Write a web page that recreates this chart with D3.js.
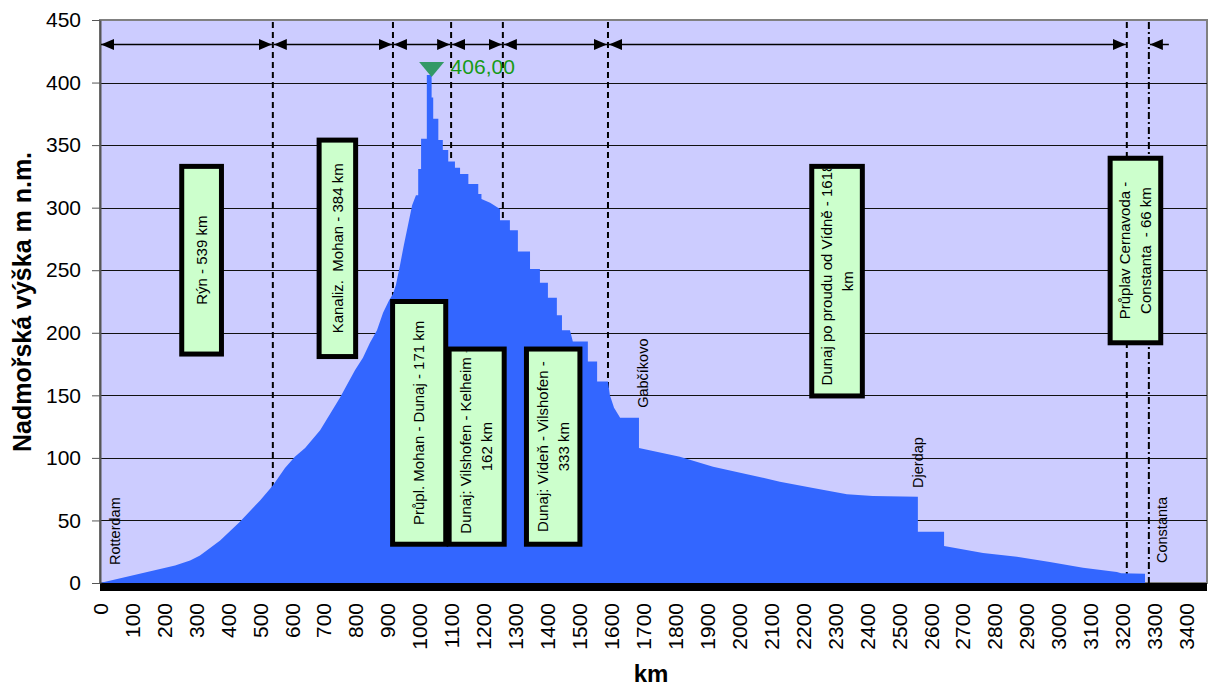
<!DOCTYPE html>
<html>
<head>
<meta charset="utf-8">
<script src="https://cdn.jsdelivr.net/npm/d3@7"></script>
<style>
  body { margin: 0; background: #fff; }
  svg text { font-family: "Liberation Sans", Arial, sans-serif; }
</style>
</head>
<body>
<div id="chart"></div>
<script>
//Size of the page
var W = 1212, H = 687;

///////////////////////////////////////////////////////////////////////////
//////////////////////////////// Data /////////////////////////////////////
///////////////////////////////////////////////////////////////////////////

//Tick labels
var kmTicks = [0,100,200,300,400,500,600,700,800,900,1000,1100,1200,1300,1400,1500,1600,
	1700,1800,1900,2000,2100,2200,2300,2400,2500,2600,2700,2800,2900,3000,3100,3200,3300,3400];
var heightTicks = [0,50,100,150,200,250,300,350,400,450];

//Profile of the waterway : [km, m n.m.]
var profile = [
	[0,0],[235,14],[282,18],[313,22],[376,34],[438,49],[501,66],[541,78],[579,92],[610,101],
	[642,108],[689,122],[720,135],[751,148],[798,170],[823,180],[845,192],[867,202],[886,216],
	[905,226],[917,231],[926,238],[939,254],[951,270],[964,286],[977,302],[989,310],
	[996,310],[996,331],[1005,331],[1005,355],[1023,355],[1023,406],[1038,406],[1038,388],
	[1043,388],[1043,371],[1059,371],[1059,354],[1073,354],[1073,346],[1090,346],[1090,337],
	[1111,337],[1111,332],[1127,332],[1127,327],[1153,327],[1153,319],[1184,319],[1184,311],
	[1194,311],[1194,307],[1221,304],[1252,299],[1252,290],[1283,290],[1283,282],[1308,282],
	[1308,265],[1346,265],[1346,251],[1377,251],[1377,240],[1402,240],[1402,228],[1430,228],
	[1430,214],[1446,214],[1446,202],[1471,202],[1480,193],[1527,193],[1527,177],[1556,177],
	[1556,161],[1590,161],[1596,150],[1609,140],[1628,132],[1687,132],[1687,108],[1815,101],
	[1919,93],[2025,87],[2128,81],[2232,76],[2338,71],[2419,69.5],[2560,69],[2560,41],
	[2642,41],[2642,29.5],[2764,24],[2870,21],[2973,16.8],[3077,12.2],[3183,8.8],[3196,7.7],
	[3271,7.4],[3271,0]
];

//Section borders (km)
var sectionKm = [541, 917, 1099, 1261, 1590, 3214];
var endKm = 3283; //Constanta
var peak = {km: 1038, m: 406, label: "406,00"};

//Labelled boxes for each section
var boxes = [
	{km0: 248,  km1: 388,  top: 335,   bottom: 181,   lines: ["Rýn - 539 km"]},
	{km0: 678,  km1: 808,  top: 356,   bottom: 179,   lines: ["Kanaliz.  Mohan - 384 km"]},
	{km0: 908,  km1: 1090, top: 227,   bottom: 29,    lines: ["Průpl. Mohan - Dunaj - 171 km"]},
	{km0: 1085, km1: 1273, top: 189,   bottom: 29,    lines: ["Dunaj: Vilshofen - Kelheim -", "162 km"]},
	{km0: 1327, km1: 1510, top: 189,   bottom: 29,    lines: ["Dunaj: Vídeň - Vilshofen -", "333 km"]},
	{km0: 2220, km1: 2394, top: 335,   bottom: 147.5, lines: ["Dunaj po proudu od Vídně - 1618", "km"]},
	{km0: 3154, km1: 3328, top: 341.5, bottom: 190,   lines: ["Průplav Cernavoda -", "Constanta  - 66 km"]}
];

//Place names
var places = [
	{km: 47,   m: 14.4, name: "Rotterdam"},
	{km: 1700, m: 140,  name: "Gabčíkovo"},
	{km: 2560, m: 76,   name: "Djerdap"},
	{km: 3324, m: 16,   name: "Constanta"}
];

///////////////////////////////////////////////////////////////////////////
///////////////////////////// Scales & SVG ////////////////////////////////
///////////////////////////////////////////////////////////////////////////

var plotLeft = 100, plotRight = 1207, plotTop = 20, plotBottom = 583;

var x = d3.scaleLinear().domain([0, 3465]).range([plotLeft, plotRight]);
var y = d3.scaleLinear().domain([0, 450]).range([plotBottom, plotTop]);

var svg = d3.select("#chart").append("svg")
	.attr("width", W)
	.attr("height", H);

//Arrow head
var defs = svg.append("defs");
defs.append("marker")
	.attr("id", "arrow")
	.attr("markerUnits", "userSpaceOnUse")
	.attr("markerWidth", 13).attr("markerHeight", 11)
	.attr("refX", 13).attr("refY", 5.5)
	.attr("orient", "auto-start-reverse")
	.append("path")
	.attr("d", "M0,0 L13,5.5 L0,11 Z")
	.attr("fill", "#000");

//Plot background
svg.append("rect")
	.attr("x", plotLeft).attr("y", plotTop)
	.attr("width", plotRight - plotLeft).attr("height", plotBottom - plotTop)
	.attr("fill", "#CCCCFF")
	.attr("stroke", "#808080")
	.attr("stroke-width", 2);

//Gridlines
svg.append("g").selectAll("line")
	.data(heightTicks.filter(function(d) {return d > 0 && d < 450;}))
	.enter().append("line")
	.attr("x1", plotLeft).attr("x2", plotRight)
	.attr("y1", function(d) {return Math.round(y(d)) + 0.5;})
	.attr("y2", function(d) {return Math.round(y(d)) + 0.5;})
	.attr("stroke", "#111")
	.attr("stroke-width", 1);

//Section borders (hidden below the profile)
svg.append("g").selectAll("line")
	.data(sectionKm).enter().append("line")
	.attr("x1", function(d) {return x(d);})
	.attr("x2", function(d) {return x(d);})
	.attr("y1", plotTop + 2).attr("y2", plotBottom)
	.attr("stroke", "#000")
	.attr("stroke-width", 2)
	.attr("stroke-dasharray", "6,4");

svg.append("line")
	.attr("x1", x(endKm)).attr("x2", x(endKm))
	.attr("y1", plotTop + 2).attr("y2", plotBottom)
	.attr("stroke", "#000")
	.attr("stroke-width", 2)
	.attr("stroke-dasharray", "7,3,2,3");

//Profile
var area = d3.area()
	.x(function(d) {return x(d[0]);})
	.y0(y(0))
	.y1(function(d) {return y(d[1]);});

svg.append("path")
	.datum(profile)
	.attr("d", area)
	.attr("fill", "#3366FF");

//Thick base line
svg.append("rect")
	.attr("x", plotLeft).attr("y", plotBottom)
	.attr("width", plotRight - plotLeft).attr("height", 8)
	.attr("fill", "#000");

///////////////////////////////////////////////////////////////////////////
///////////////////////////////// Axes ////////////////////////////////////
///////////////////////////////////////////////////////////////////////////

var yAxis = svg.append("g")
	.attr("transform", "translate(" + plotLeft + ",0)")
	.call(d3.axisLeft(y).tickValues(heightTicks).tickSize(8).tickSizeOuter(0).tickPadding(11));
yAxis.select(".domain").attr("stroke", "#555").attr("stroke-width", 2);
yAxis.selectAll(".tick line").attr("stroke", "#555");
yAxis.selectAll("text").attr("font-size", "21px").attr("fill", "#000");

var xAxis = svg.append("g")
	.attr("transform", "translate(0," + plotBottom + ")")
	.call(d3.axisBottom(x).tickValues(kmTicks).tickSize(0).tickFormat(d3.format("d")));
xAxis.select(".domain").remove();
xAxis.selectAll("text")
	.attr("font-size", "21px")
	.attr("fill", "#000")
	.attr("transform", "rotate(-90)")
	.attr("text-anchor", "end")
	.attr("x", -20)
	.attr("y", 0)
	.attr("dy", "0.35em");

//Axis titles
svg.append("text")
	.attr("x", 651).attr("y", 682)
	.attr("text-anchor", "middle")
	.attr("font-size", "24px")
	.attr("font-weight", "bold")
	.text("km");

svg.append("text")
	.attr("transform", "translate(31,302) rotate(-90)")
	.attr("text-anchor", "middle")
	.attr("font-size", "25px")
	.attr("font-weight", "bold")
	.text("Nadmořská výška m n.m.");

///////////////////////////////////////////////////////////////////////////
////////////////////////////// Annotations ////////////////////////////////
///////////////////////////////////////////////////////////////////////////

//Arrows between the borders
var arrowY = 44.5;
var stops = [0].concat(sectionKm);
var segs = d3.pairs(stops);
svg.append("g").selectAll("line")
	.data(segs).enter().append("line")
	.attr("x1", function(d) {return x(d[0]) + 1;})
	.attr("x2", function(d) {return x(d[1]) - 1;})
	.attr("y1", arrowY).attr("y2", arrowY)
	.attr("stroke", "#000").attr("stroke-width", 1.5)
	.attr("marker-start", "url(#arrow)")
	.attr("marker-end", "url(#arrow)");

svg.append("line")
	.attr("x1", x(endKm) + 1).attr("x2", x(endKm) + 20)
	.attr("y1", arrowY).attr("y2", arrowY)
	.attr("stroke", "#000").attr("stroke-width", 1.5)
	.attr("marker-start", "url(#arrow)");

//Boxes
var bw = 5, pad = 8, lineGap = 21;
boxes.forEach(function(b, i) {
	var x0 = x(b.km0), x1 = x(b.km1), y0 = y(b.top), y1 = y(b.bottom);
	svg.append("rect")
		.attr("x", x0 + bw/2).attr("y", y0 + bw/2)
		.attr("width", x1 - x0 - bw).attr("height", y1 - y0 - bw)
		.attr("fill", "#CCFFCC")
		.attr("stroke", "#000")
		.attr("stroke-width", bw);

	defs.append("clipPath").attr("id", "clip" + i)
		.append("rect")
		.attr("x", x0 + bw).attr("y", y0 + bw)
		.attr("width", x1 - x0 - 2*bw).attr("height", y1 - y0 - 2*bw);

	var inner = y1 - y0 - 2*bw;
	var g = svg.append("g").attr("clip-path", "url(#clip" + i + ")")
		.append("g")
		.attr("transform", "translate(" + (x0 + x1)/2 + "," + (y0 + y1)/2 + ") rotate(-90)");

	b.lines.forEach(function(t, j) {
		var txt = g.append("text")
			.attr("y", (j - (b.lines.length - 1)/2) * lineGap)
			.attr("dy", "0.35em")
			.attr("font-size", "15px")
			.attr("text-anchor", "middle")
			.style("white-space", "pre")
			.text(t);
		//Too long for the box : start at the bottom and let it run out
		if (txt.node().getComputedTextLength() > inner - 2*pad) {
			txt.attr("text-anchor", "start").attr("x", -(inner/2 - pad));
		}
	});
});

//Place names
svg.append("g").selectAll("text")
	.data(places).enter().append("text")
	.attr("transform", function(d) {return "translate(" + x(d.km) + "," + y(d.m) + ") rotate(-90)";})
	.attr("dy", "0.35em")
	.attr("font-size", "14.5px")
	.text(function(d) {return d.name;});

//Highest point
var px = x(peak.km), py = y(peak.m) + 2;
svg.append("path")
	.attr("d", "M" + (px - 12.5) + "," + (py - 15) + " L" + (px + 12.5) + "," + (py - 15) + " L" + px + "," + py + " Z")
	.attr("fill", "#339966");

svg.append("text")
	.attr("x", px + 19).attr("y", py - 3)
	.attr("font-size", "21px")
	.attr("fill", "#169A16")
	.text(peak.label);
</script>
</body>
</html>
